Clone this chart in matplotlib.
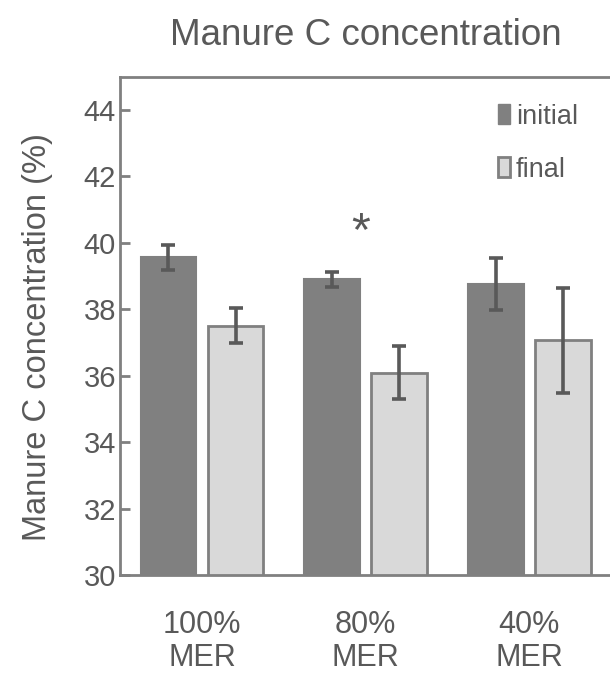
import numpy as np
import matplotlib.pyplot as plt
from matplotlib.patches import Patch

plt.rcParams['font.family'] = ['Liberation Sans', 'DejaVu Sans']

# Data
categories = ['100%\nMER', '80%\nMER', '40%\nMER']
initial = [39.57, 38.90, 38.77]
initial_err = [0.38, 0.22, 0.78]
final = [37.51, 36.09, 37.06]
final_err = [0.52, 0.80, 1.58]
yticks = [30, 32, 34, 36, 38, 40, 42, 44]

text_col = '#595959'
edge_col = '#808080'

fig = plt.figure(figsize=(6.1, 6.74), dpi=100)
ax = fig.add_axes([0.197, 0.147, 0.805, 0.739])

x = np.arange(len(categories))
w = 0.34
off = 0.205
err_kw = dict(ecolor=text_col, elinewidth=2.6, capsize=4.7, capthick=2.6)
ax.bar(x - off, initial, w, yerr=initial_err, color='#808080', edgecolor='#808080',
       linewidth=1.5, error_kw=err_kw, label='initial')
ax.bar(x + off, final, w, yerr=final_err, color='#d9d9d9', edgecolor='#808080',
       linewidth=2, error_kw=err_kw, label='final')

# significance marker
ax.text(0.97, 40.3, '*', fontsize=35, color=text_col, ha='center', va='center')

ax.set_xlim(-0.5, 2.5)
ax.set_ylim(30, 45)
ax.set_yticks(yticks)
ax.set_xticks(x)
ax.set_xticklabels(categories, fontsize=22, color=text_col, linespacing=1.15)
ax.tick_params(axis='y', direction='in', length=7, width=2, color=edge_col,
               labelsize=21, labelcolor=text_col, pad=3)
ax.tick_params(axis='x', length=0, pad=25)
for s in ax.spines.values():
    s.set_color(edge_col)
    s.set_linewidth(2)

ax.set_ylabel('Manure C concentration (%)', fontsize=23.5, color=text_col)
ax.yaxis.set_label_coords(-0.137, 0.478)
fig.text(0.6, 0.948, 'Manure C concentration', fontsize=26.5, color=text_col,
         ha='center', va='center')

handles = [Patch(facecolor='#808080', edgecolor='#808080', label='initial'),
           Patch(facecolor='#d9d9d9', edgecolor='#808080', linewidth=2, label='final')]
ax.legend(handles=handles, loc='upper left', bbox_to_anchor=(0.72, 0.995), frameon=False,
          fontsize=19.5, labelcolor=text_col, handlelength=0.45, handleheight=0.75,
          handletextpad=0.2, labelspacing=1.0)

fig.savefig('out.png', dpi=100)
